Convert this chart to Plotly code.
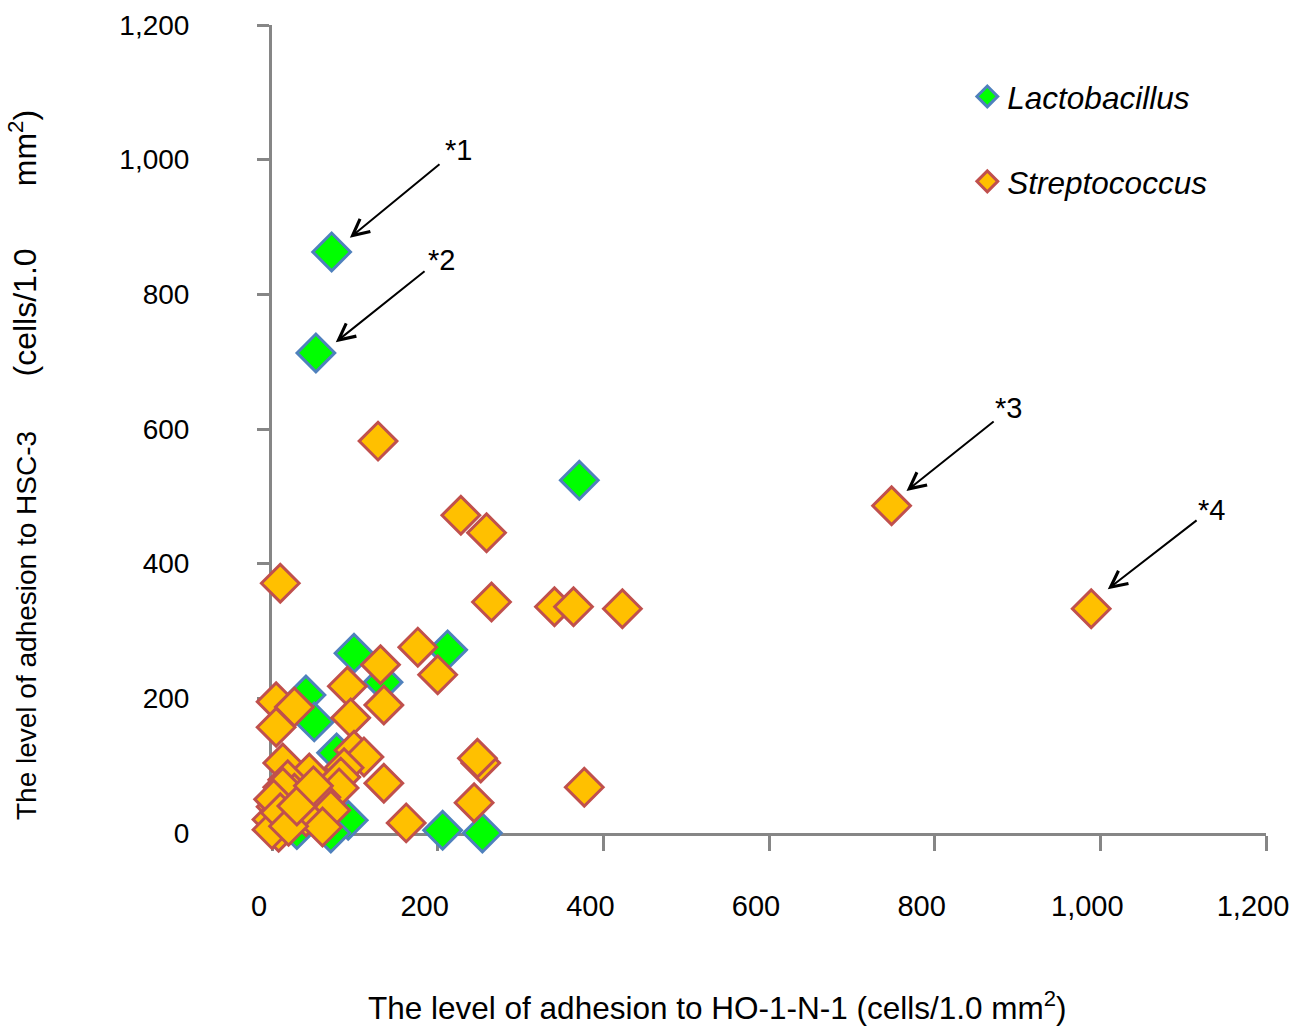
import plotly.graph_objects as go

# Lactobacillus strains: adhesion to HO-1-N-1 (x) and HSC-3 (y), cells/1.0 mm2
lacto_x = [72, 53, 371, 99, 212, 134, 41, 51, 78, 92, 71, 206, 254, 30]
lacto_y = [863, 713, 524, 267, 272, 224, 205, 165, 119, 19, 0, 4, 0, 5]

# Streptococcus strains
strep_x = [128, 228, 259, 10, 265, 341, 364, 423, 748, 989,
           176, 131, 200, 91, 5, 27, 135, 5, 95, 13,
           99, 111, 252, 248, 45, 135, 87, 83, 81, 19,
           244, 162, 377, 5, 39, 59, 71, 41, 61, 8,
           27, 13, 0, 2, 0, 10, 20, 30, 50]
strep_y = [582, 472, 446, 371, 343, 336, 336, 333, 486, 333,
           276, 250, 235, 218, 195, 187, 190, 157, 171, 104,
           123, 113, 104, 111, 89, 74, 97, 83, 67, 79,
           45, 15, 68, 39, 53, 53, 34, 24, 9, 1,
           59, 68, 20, 50, 5, 30, 10, 40, 70]

# Annotated strains: label, arrow head (x, y), arrow tail (x, y), label position
note_labels = ["*1", "*2", "*3", "*4"]
note_head_x = [94, 77, 766, 1009]
note_head_y = [884, 729, 508, 362]
note_tail_x = [204, 186, 873, 1118]
note_tail_y = [995, 836, 613, 466]
note_text_x = [225, 205, 889, 1134]
note_text_y = [1014, 851, 631, 480]

x_ticks = [0, 200, 400, 600, 800, 1000, 1200]
x_ticktext = ["0", "200", "400", "600", "800", "1,000", "1,200"]
y_ticks = [0, 200, 400, 600, 800, 1000, 1200]
y_ticktext = ["0", "200", "400", "600", "800", "1,000", "1,200"]

FONT = "Liberation Sans, Arial, sans-serif"
AXIS_GREY = "#868686"
NB = "\u00a0"

fig = go.Figure()
fig.add_trace(go.Scatter(
    x=lacto_x, y=lacto_y, mode="markers", name="<i>Lactobacillus</i>",
    legendgroup="a",
    marker=dict(symbol="diamond", size=29, color="#00FF00",
                line=dict(color="#4F81BD", width=3)),
    cliponaxis=False,
))
fig.add_trace(go.Scatter(
    x=strep_x, y=strep_y, mode="markers", name="<i>Streptococcus</i>",
    legendgroup="b",
    marker=dict(symbol="diamond", size=29, color="#FFC000",
                line=dict(color="#C0504D", width=3)),
    cliponaxis=False,
))

annotations = []
for lab, hx, hy, tx, ty, lx, ly in zip(note_labels, note_head_x, note_head_y,
                                         note_tail_x, note_tail_y,
                                         note_text_x, note_text_y):
    annotations.append(dict(
        x=hx, y=hy, ax=tx, ay=ty, xref="x", yref="y", axref="x", ayref="y",
        text="", showarrow=True, arrowhead=5, arrowsize=1.6, arrowwidth=2,
        arrowcolor="black", standoff=0,
    ))
    annotations.append(dict(
        x=lx, y=ly, xref="x", yref="y", text=lab, showarrow=False,
        font=dict(family=FONT, size=29, color="black"),
    ))

ytitle = ("The level of adhesion to HSC-3" + NB * 7 +
          "<span style='font-size:32px'>(cells/1.0" + NB * 7 +
          "mm<sup>2</sup>)</span>")
annotations.append(dict(
    text=ytitle, xref="paper", yref="paper", x=-0.2505, y=0.4554,
    xanchor="center", yanchor="middle", textangle=-90, showarrow=False,
    font=dict(family=FONT, size=28, color="black"),
))
annotations.append(dict(
    text="The level of adhesion to HO-1-N-1 (cells/1.0 mm<sup>2</sup>)",
    xref="paper", yref="paper", x=0.448, y=-0.2141,
    xanchor="center", yanchor="middle", showarrow=False,
    font=dict(family=FONT, size=31.5, color="black"),
))

fig.update_layout(
    width=1290, height=1027,
    margin=dict(l=272, r=24, t=25, b=194),
    paper_bgcolor="white", plot_bgcolor="white",
    font=dict(family=FONT, color="black"),
    showlegend=True,
    legend=dict(x=0.6995, y=0.945, xanchor="left", yanchor="top",
                font=dict(family=FONT, size=31.5, color="black"),
                tracegroupgap=41, bgcolor="rgba(0,0,0,0)"),
    annotations=annotations,
    xaxis=dict(
        range=[0, 1200], tickvals=x_ticks, ticktext=x_ticktext,
        showgrid=False, zeroline=False, showline=True, linecolor=AXIS_GREY,
        linewidth=3, ticks="outside", ticklen=15, tickwidth=3,
        tickcolor=AXIS_GREY, tickfont=dict(family=FONT, size=29),
        ticklabelstandoff=30, ticklabelshift=-13, ticklabeloverflow="allow",
        layer="below traces", automargin=False,
    ),
    yaxis=dict(
        range=[0, 1200], tickvals=y_ticks, ticktext=y_ticktext,
        showgrid=False, zeroline=False, showline=True, linecolor=AXIS_GREY,
        linewidth=3, ticks="outside", ticklen=12, tickwidth=3,
        tickcolor=AXIS_GREY, tickfont=dict(family=FONT, size=28),
        ticklabelstandoff=62, layer="below traces", automargin=False,
    ),
)

fig.write_html("out.html")
